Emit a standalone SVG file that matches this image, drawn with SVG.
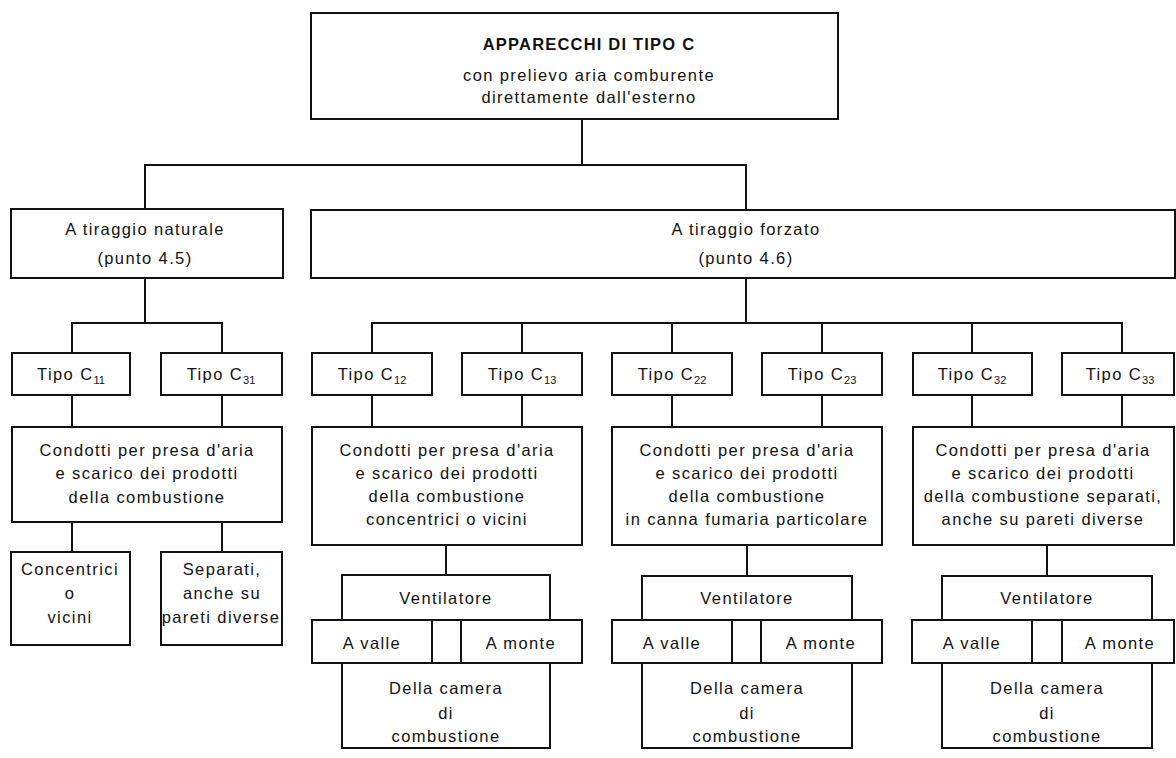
<svg xmlns="http://www.w3.org/2000/svg" width="1176" height="758" viewBox="0 0 1176 758">
<style>
rect{fill:#fff;stroke:#111;stroke-width:2}
.c line,.c path{stroke:#111;stroke-width:2;fill:none}
text{font-family:"Liberation Sans",Arial,sans-serif;font-size:16.5px;letter-spacing:1.4px;fill:#111;text-anchor:middle}
.b{font-weight:bold;letter-spacing:1.2px}
.s{font-size:11px;letter-spacing:0}
</style>
<rect x="0" y="0" width="1176" height="758" style="fill:#fff;stroke:none"/>
<g class="c" id="connectors">
<line x1="582" y1="119" x2="582" y2="165"/>
<path d="M145 209V165H746V210"/>
<path d="M145 278V323M72 353V323H222V353"/>
<path d="M746 278V323M372 353V323H1122V353M522 323V353M672 323V353M822 323V353M972 323V353"/>
<path d="M72 395V427M222 395V427M72 522V552M222 522V552"/>
<path d="M372 395V427M522 395V427M672 395V427M822 395V427M972 395V427M1122 395V427"/>
<path d="M446 545V575M747 545V576M1047 545V576"/>
</g>
<g id="top"><rect x="311" y="13" width="527" height="106"/>
<text class="b" x="589" y="50">APPARECCHI DI TIPO C</text>
<text x="589" y="81">con prelievo aria comburente</text>
<text x="589" y="103">direttamente dall'esterno</text></g>
<g id="naturale"><rect x="11" y="209" width="272" height="69"/>
<text x="145" y="235">A tiraggio naturale</text><text x="145" y="264">(punto 4.5)</text></g>
<g id="forzato"><rect x="311" y="210" width="864" height="68"/>
<text x="746" y="235">A tiraggio forzato</text><text x="746" y="264">(punto 4.6)</text></g>
<g id="c11"><rect x="12" y="353" width="118" height="42"/><text x="71" y="380">Tipo C<tspan class="s" dy="4">11</tspan></text></g>
<g id="c31"><rect x="161" y="353" width="121" height="42"/><text x="221" y="380">Tipo C<tspan class="s" dy="4">31</tspan></text></g>
<g id="cond1"><rect x="12" y="427" width="270" height="95"/>
<text x="147" y="456">Condotti per presa d'aria</text><text x="147" y="479">e scarico dei prodotti</text><text x="147" y="503">della combustione</text></g>
<g id="conc"><rect x="11" y="552" width="119" height="93"/>
<text x="70" y="575">Concentrici</text><text x="70" y="599">o</text><text x="70" y="623">vicini</text></g>
<g id="sep"><rect x="161" y="552" width="121" height="93"/>
<text x="222" y="575">Separati,</text><text x="222" y="599">anche su</text><text x="221" y="623">pareti diverse</text></g>
<g id="c12"><rect x="312" y="353" width="120" height="42"/><text x="372" y="380">Tipo C<tspan class="s" dy="4">12</tspan></text></g>
<g id="c13"><rect x="462" y="353" width="120" height="42"/><text x="522" y="380">Tipo C<tspan class="s" dy="4">13</tspan></text></g>
<g id="cond2"><rect x="312" y="427" width="270" height="118"/>
<text x="447" y="456">Condotti per presa d'aria</text><text x="447" y="479">e scarico dei prodotti</text><text x="447" y="502">della combustione</text><text x="447" y="525">concentrici o vicini</text></g>
<g id="vent2"><rect x="342" y="575" width="208" height="45"/><text x="446" y="604">Ventilatore</text></g>
<g id="av2"><rect x="312" y="620" width="120" height="43"/><text x="372" y="649">A valle</text></g>
<g id="gap2"><rect x="432" y="620" width="29" height="43"/></g>
<g id="am2"><rect x="461" y="620" width="121" height="43"/><text x="521" y="649">A monte</text></g>
<g id="cam2"><rect x="342" y="663" width="208" height="85"/>
<text x="446" y="694">Della camera</text><text x="446" y="719">di</text><text x="446" y="742">combustione</text></g>
<g id="c22"><rect x="612" y="353" width="120" height="42"/><text x="672" y="380">Tipo C<tspan class="s" dy="4">22</tspan></text></g>
<g id="c23"><rect x="762" y="353" width="120" height="42"/><text x="822" y="380">Tipo C<tspan class="s" dy="4">23</tspan></text></g>
<g id="cond3"><rect x="612" y="427" width="270" height="118"/>
<text x="747" y="456">Condotti per presa d'aria</text><text x="747" y="479">e scarico dei prodotti</text><text x="747" y="502">della combustione</text><text x="747" y="525">in canna fumaria particolare</text></g>
<g id="vent3"><rect x="642" y="576" width="210" height="44"/><text x="747" y="604">Ventilatore</text></g>
<g id="av3"><rect x="612" y="620" width="120" height="43"/><text x="672" y="649">A valle</text></g>
<g id="gap3"><rect x="732" y="620" width="29" height="43"/></g>
<g id="am3"><rect x="761" y="620" width="121" height="43"/><text x="821" y="649">A monte</text></g>
<g id="cam3"><rect x="642" y="663" width="210" height="85"/>
<text x="747" y="694">Della camera</text><text x="747" y="719">di</text><text x="747" y="742">combustione</text></g>
<g id="c32"><rect x="913" y="353" width="119" height="42"/><text x="972" y="380">Tipo C<tspan class="s" dy="4">32</tspan></text></g>
<g id="c33"><rect x="1062" y="353" width="112" height="42"/><text x="1120" y="380">Tipo C<tspan class="s" dy="4">33</tspan></text></g>
<g id="cond4"><rect x="913" y="427" width="261" height="118"/>
<text x="1043" y="456">Condotti per presa d'aria</text><text x="1043" y="479">e scarico dei prodotti</text><text x="1043" y="502">della combustione separati,</text><text x="1043" y="525">anche su pareti diverse</text></g>
<g id="vent4"><rect x="942" y="576" width="210" height="44"/><text x="1047" y="604">Ventilatore</text></g>
<g id="av4"><rect x="912" y="620" width="120" height="43"/><text x="972" y="649">A valle</text></g>
<g id="gap4"><rect x="1032" y="620" width="30" height="43"/></g>
<g id="am4"><rect x="1062" y="620" width="112" height="43"/><text x="1120" y="649">A monte</text></g>
<g id="cam4"><rect x="942" y="663" width="210" height="85"/>
<text x="1047" y="694">Della camera</text><text x="1047" y="719">di</text><text x="1047" y="742">combustione</text></g>
</svg>
